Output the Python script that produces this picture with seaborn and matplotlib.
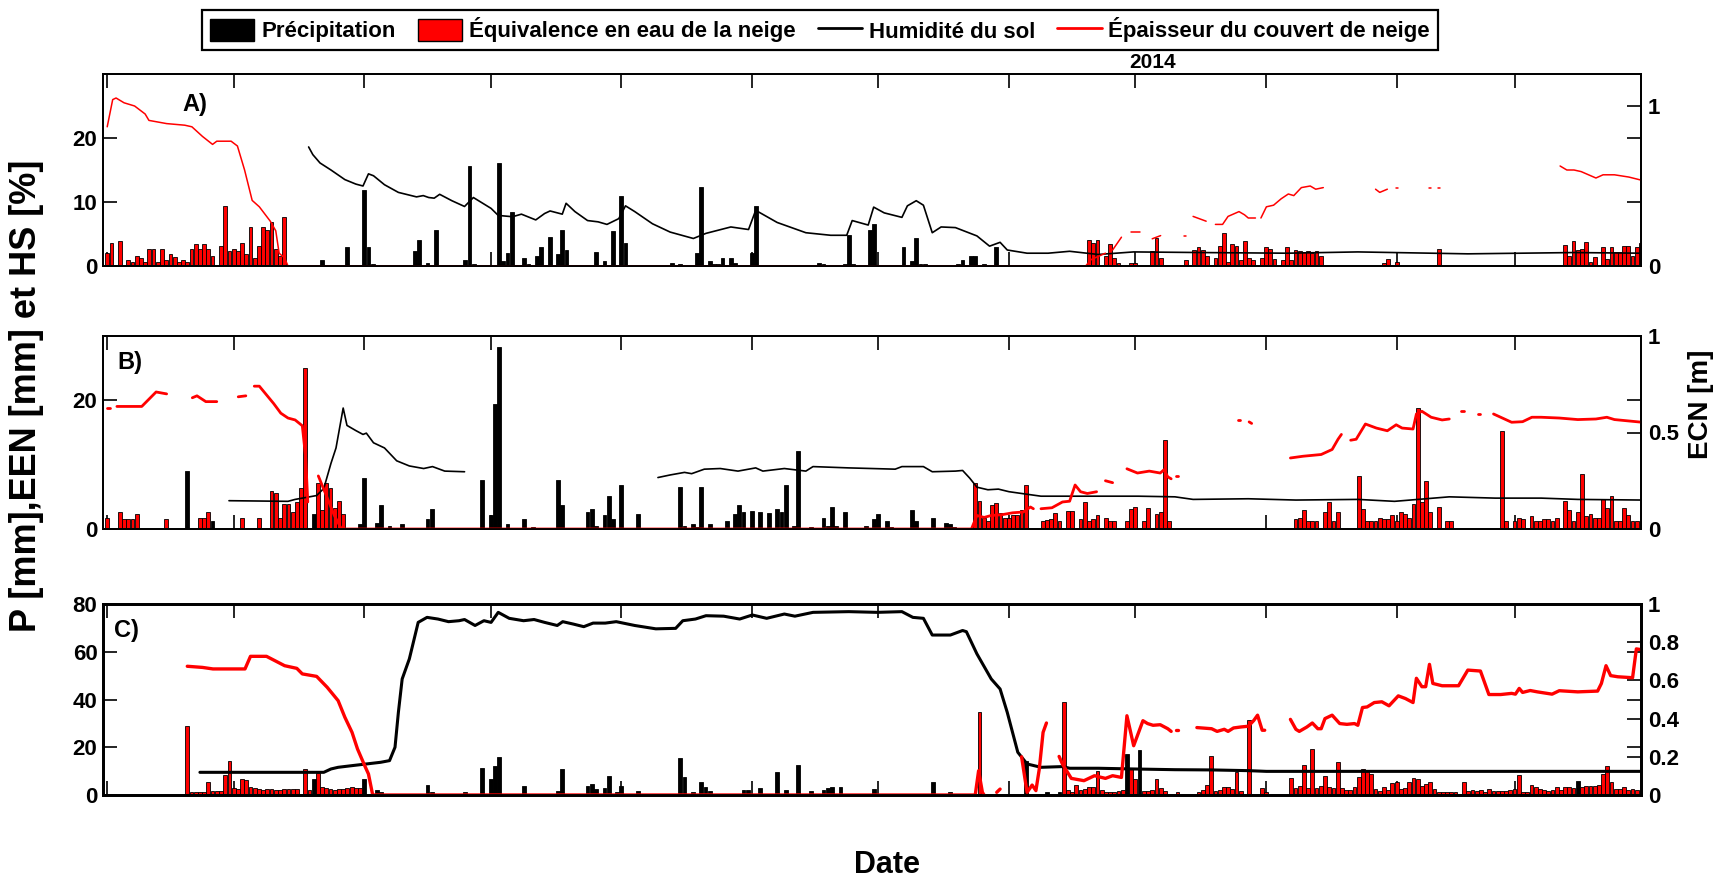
import numpy as np
import pandas as pd
import matplotlib
matplotlib.use("Agg")
import matplotlib.pyplot as plt
import seaborn as sns
from matplotlib.patches import Patch
from matplotlib.lines import Line2D

# ---------------------------------------------------------------------------
# Data: day index counted from 1 April 2013 (season April 2013 - March 2014)
# ---------------------------------------------------------------------------

# ---- Station A ----
a_p_jour = [51, 57, 61, 62, 63, 73, 74, 76, 78, 85, 86, 87, 93, 94, 95, 96, 99, 100, 102, 103,
            105, 107, 108, 109, 116, 118, 120, 122, 123, 134, 136, 140, 141, 143, 144, 145, 146, 148, 149,
            153, 154, 169, 170, 175, 176, 177, 181, 182, 189, 191, 192, 193, 194, 202, 203, 205, 206, 208, 211]
a_p_mm = [1.0, 2.9, 11.8, 3.0, 0.3, 2.3, 4.0, 0.5, 5.6, 1.0, 15.6, 0.3, 16.1, 0.8, 2.0, 8.5, 1.3, 0.3, 1.6, 3.0,
          4.5, 1.8, 5.7, 2.5, 2.2, 0.8, 5.5, 10.9, 3.6, 0.5, 0.3, 2.0, 12.3, 0.8, 0.3, 0.3, 1.3, 1.3, 0.4,
          2.0, 9.4, 0.5, 0.3, 0.3, 4.8, 0.3, 5.7, 6.5, 2.9, 0.8, 4.3, 0.3, 0.3, 0.3, 1.0, 1.6, 1.6, 0.3, 3.0]

a_een_jour = [0, 1, 3, 5, 6, 7, 8, 9, 10, 11, 12, 13, 14, 15, 16, 17, 18, 19, 20, 21,
              22, 23, 24, 25, 27, 28, 29, 30, 31, 32, 33, 34, 35, 36, 37, 38, 39, 40, 41, 42,
              233, 234, 235, 237, 238, 239, 240, 243, 244, 248, 249, 250, 256, 258, 259, 260, 261, 263, 264, 265,
              266, 267, 268, 269, 270, 271, 272, 274, 275, 276, 277, 279, 280, 281, 282, 283, 284, 285, 286, 287,
              288, 303, 304, 306, 316,
              346, 347, 348, 349, 350, 351, 352, 353, 355, 356, 357, 358, 359, 360, 361, 362, 363, 364]
a_een_mm = [2.0, 3.6, 3.9, 1.0, 0.7, 1.6, 1.2, 0.7, 2.6, 2.6, 0.7, 2.6, 1.0, 1.9, 1.4, 0.7, 1.0, 0.7, 2.7, 3.4,
            2.6, 3.5, 2.6, 1.6, 3.1, 9.3, 2.3, 2.7, 2.3, 3.6, 1.8, 6.1, 1.3, 3.2, 6.1, 5.6, 6.8, 2.6, 1.5, 7.6,
            4.1, 3.6, 4.0, 1.6, 3.5, 1.3, 0.5, 0.4, 0.4, 2.3, 4.3, 1.3, 0.9, 2.5, 2.9, 2.5, 1.6, 1.3, 3.1, 5.2,
            0.7, 3.5, 3.2, 0.9, 3.9, 1.3, 1.0, 1.3, 2.9, 2.7, 1.1, 0.9, 2.9, 1.0, 2.5, 2.3, 2.2, 2.3, 2.0, 2.4,
            1.6, 0.4, 1.1, 0.6, 2.7,
            3.3, 1.6, 3.9, 2.5, 2.7, 3.7, 0.6, 1.4, 2.9, 1.1, 2.9, 2.2, 2.2, 3.2, 3.2, 1.6, 2.9, 3.6]

a_hs_jour = [[47.8, 48.8, 50.5, 53.1, 56.4, 59, 60.7, 62, 63.2, 65.8, 69.1, 73.4, 75, 76.3, 77.6, 78.9, 81.8,
              84.8, 86.9, 91.1, 92.8, 96.2, 98.3, 101.7, 103.8, 105.1, 108, 108.9, 111, 114, 116.5, 118.6,
              121.4, 123, 125.2, 129.4, 133.6, 139.1, 142.1, 148, 152.2, 153.9, 159, 165.8, 171.7, 175.5,
              176.8, 180.6, 181.9, 184.4, 188.6, 189.9, 192, 193.7, 195.8, 197.9, 201.3, 206.4, 209.4, 211.9,
              213.6, 218.3, 223.3, 228.4, 235.2, 243.6, 260, 280, 296.8, 322.9, 348, 364.3]]
a_hs_pct = [[18.6, 17.4, 16.1, 15.0, 13.5, 12.8, 12.5, 14.4, 14.1, 12.7, 11.5, 10.8, 11.0, 10.7, 10.6, 11.2, 10.2,
             9.3, 10.7, 9.0, 7.9, 7.7, 8.1, 7.2, 8.2, 8.6, 8.1, 9.8, 8.5, 7.1, 6.9, 6.5,
             7.4, 9.4, 8.5, 6.6, 5.3, 4.3, 5.1, 6.1, 5.7, 8.7, 6.8, 5.2, 4.8, 4.8,
             7.1, 6.4, 9.2, 8.3, 7.6, 9.4, 10.2, 9.5, 5.2, 6.1, 6.0, 4.7, 3.1, 3.7,
             2.5, 2.0, 2.0, 2.3, 1.8, 2.2, 2.1, 2.0, 2.2, 1.9, 2.1, 2.0]]

# snow depth, one list per continuous record
a_ecn_jour = [[0, 1.3, 2.1, 4, 6.5, 9, 9.9, 14.1, 18.4, 20.1, 22.6, 25, 26, 27.2, 29.4, 30.9, 32.6, 34.4,
               36.1, 38.7, 40, 40.8, 42.1, 42.9, 232.2, 233.5, 236.9],
              [238.6, 240.7], [243, 245], [248, 250], [255.5, 256], [257.7, 260.8],
              [263, 264.7, 266, 268.6, 269.9, 270.8, 272.5],
              [273.8, 275.1, 276.8, 278.6, 280.3, 281.6, 283.4, 285.5, 286.8, 288.6],
              [301, 302, 303.8], [305.8, 306.3], [313.6, 314.1], [315.8, 316.3],
              [344.8, 346.4, 348.1, 349.8, 353.3, 355, 357.7, 361.1, 364.3]]
a_ecn_m = [[0.87, 1.04, 1.05, 1.02, 1.0, 0.95, 0.91, 0.89, 0.88, 0.87, 0.81, 0.76, 0.78, 0.78, 0.78, 0.75, 0.60, 0.41,
            0.37, 0.28, 0.22, 0.08, 0.05, 0, 0, 0.04, 0.08],
           [0.10, 0.18], [0.21, 0.21], [0.17, 0.19], [0.19, 0.19], [0.31, 0.28],
           [0.26, 0.26, 0.31, 0.34, 0.32, 0.30, 0.30],
           [0.30, 0.37, 0.38, 0.42, 0.45, 0.44, 0.49, 0.50, 0.48, 0.49],
           [0.48, 0.46, 0.48], [0.49, 0.49], [0.485, 0.485], [0.485, 0.485],
           [0.625, 0.60, 0.60, 0.59, 0.55, 0.57, 0.57, 0.556, 0.535]]

# ---- Station B ----
b_p_jour = [19, 25, 49, 60, 61, 64, 65, 67, 70, 76, 77, 89, 91, 92, 93, 95, 99, 101, 107, 108,
            114, 115, 116, 118, 119, 120, 122, 126, 136, 137, 139, 140, 141, 143, 147, 149, 150, 151, 153, 155,
            157, 159, 160, 161, 163, 164, 165, 167, 170, 171, 172, 173, 175, 180, 182, 183, 185, 186, 191, 192,
            196, 198, 199, 200, 201]
b_p_mm = [9.0, 1.2, 2.3, 0.7, 8.0, 0.9, 3.8, 0.5, 0.7, 1.6, 3.1, 7.6, 2.2, 19.4, 28.3, 0.7, 1.5, 0.3, 7.6, 3.8,
          2.7, 3.1, 0.4, 2.1, 5.1, 1.5, 6.8, 2.4, 6.5, 0.4, 0.7, 0.3, 6.6, 0.7, 1.2, 2.3, 3.8, 2.6, 2.8, 2.6,
          2.5, 3.1, 2.6, 6.8, 0.4, 12.1, 0.2, 0.3, 1.7, 0.5, 3.4, 0.4, 2.6, 0.4, 1.5, 2.3, 1.3, 0.3, 2.9, 1.3,
          1.7, 0.2, 1.0, 0.7, 0.3]

b_een_jour = [0, 3, 4, 5, 6, 7, 14, 22, 23, 24, 32, 36, 39, 40, 41, 42, 43, 44, 45, 46, 47, 50, 51, 52, 53, 54, 55, 56,
              206, 207, 208, 209, 210, 211, 212, 213, 214, 215, 216, 217, 218, 222, 223, 224, 225, 226, 228, 229,
              231, 232, 233, 234, 235, 237, 238, 239, 242, 243, 244, 246, 247, 249, 250, 251, 252,
              282, 283, 284, 285, 286, 287, 289, 290, 291, 292, 297, 298, 299, 300, 301, 302, 303, 304, 305, 306,
              307, 308, 309, 310, 311, 312, 313, 314, 316, 318, 319,
              331, 332, 334, 335, 336, 338, 339, 340, 341, 342, 343, 344, 346, 347, 348, 349, 350, 351, 352, 353,
              354, 355, 356, 357, 358, 359, 360, 361, 362, 363]
b_een_mm = [1.7, 2.6, 1.5, 1.5, 1.5, 2.3, 1.5, 1.7, 1.7, 2.6, 1.7, 1.7, 5.9, 5.6, 1.7, 3.9, 3.9, 2.7, 4.2, 6.4, 25.1,
            7.2, 3.0, 7.1, 6.4, 3.2, 4.3, 2.3,
            7.2, 4.3, 1.7, 1.2, 3.7, 4.1, 2.5, 1.7, 1.7, 2.1, 2.2, 3.0, 6.9, 1.3, 1.4, 1.5, 2.5, 1.3, 2.8, 2.8,
            1.5, 4.2, 1.3, 1.5, 2.2, 1.7, 1.3, 1.3, 1.3, 3.1, 3.4, 1.3, 3.2, 2.3, 2.7, 13.9, 1.3,
            1.6, 1.7, 3.0, 1.3, 1.3, 1.3, 2.7, 4.2, 1.3, 2.7, 8.3, 3.1, 1.3, 1.3, 1.3, 1.7, 1.6, 1.6, 2.1, 1.3,
            2.7, 2.4, 1.7, 3.9, 18.8, 4.2, 7.4, 2.6, 3.4, 1.3, 1.3,
            15.3, 1.3, 1.3, 1.7, 1.5, 2.0, 1.3, 1.3, 1.6, 1.5, 1.3, 1.7, 4.3, 2.9, 1.3, 2.6, 8.5, 2.0, 2.3, 1.7,
            1.7, 4.6, 3.2, 5.1, 1.3, 1.3, 3.2, 2.1, 1.3, 1.3]

b_hs_jour = [[28.9, 42.9, 44.6, 48, 49.7, 51.4, 53.1, 54.3, 56, 56.9, 59, 60.7, 61.5, 63.2, 65.8, 68.7, 71.7,
              75.1, 77.2, 80.1, 84.8],
             [130.7, 133.6, 137, 138.7, 141.7, 145.5, 149.7, 153.9, 155.6, 160.7, 165.8, 167.5, 175.9, 187,
              188.6, 193.7, 195.8, 201.3, 203, 204.7, 206.4, 209, 211.5, 214, 218.3, 221.6, 226.7, 244.7,
              253.4, 257.7, 270.8, 282.1, 296.8, 305.5, 318.5, 329.4, 340.3, 349, 364.3]]
b_hs_pct = [[4.4, 4.3, 4.6, 5.0, 5.2, 6.3, 10.2, 12.6, 18.8, 16.1, 15.3, 14.7, 14.9, 13.4, 12.6, 10.6, 9.8,
             9.4, 9.7, 9.0, 8.9],
            [8.0, 8.4, 8.8, 8.6, 9.3, 9.4, 9.0, 9.5, 9.0, 9.4, 9.0, 9.7, 9.5, 9.3,
             9.7, 9.7, 8.9, 9.0, 9.1, 7.9, 6.5, 6.1, 6.2, 5.8, 5.4, 5.1, 5.1, 5.1,
             5.0, 4.6, 4.7, 4.5, 4.6, 4.3, 5.0, 4.8, 4.8, 4.6, 4.5]]

b_ecn_jour = [[0, 0.6], [2.3, 8.2, 11.6, 14.1], [20.2, 21.3, 23.4, 26.0], [31.1, 32.9],
              [34.9, 36.1, 39.5, 41.2, 42.9, 44.6, 46.3, 47.1, 47.6],
              [50.1, 51.8, 53.9, 55.6, 205.1, 206.4, 208.1, 209.8, 212.3, 214.9, 217.4, 219.1, 219.8],
              [221.6, 224.2, 226.7, 228.4, 229.7, 231, 232.6, 234.8], [236.9, 238.6],
              [242, 244.5, 247.3, 249.9, 250.8, 251.7, 252.5], [253.6, 254.1], [268.4, 268.9], [271, 271.6],
              [280.8, 283.8, 288.1, 290.7, 292.1, 292.9],
              [295.1, 296.4, 298.6, 301.2, 303.8, 305.9, 307.3, 309.9, 310.7, 312, 314.2, 316.8, 318.5],
              [321.4, 321.9], [325.3, 325.8],
              [329, 331.6, 333.3, 335.9, 338.1, 340.3, 344.6, 349, 353.3, 355.9, 357.7, 364.3]]
b_ecn_m = [[0.626, 0.626], [0.635, 0.635, 0.71, 0.70], [0.68, 0.69, 0.66, 0.66], [0.685, 0.69],
           [0.74, 0.74, 0.65, 0.60, 0.575, 0.565, 0.535, 0.37, 0.14],
           [0.275, 0.184, 0.07, 0, 0, 0.07, 0.06, 0.07, 0.074, 0.084, 0.088, 0.114, 0.105],
           [0.105, 0.11, 0.14, 0.144, 0.228, 0.193, 0.184, 0.193], [0.25, 0.24],
           [0.312, 0.29, 0.30, 0.29, 0.307, 0.27, 0.26], [0.277, 0.277], [0.567, 0.567], [0.555, 0.547],
           [0.368, 0.377, 0.386, 0.412, 0.465, 0.49],
           [0.46, 0.465, 0.544, 0.523, 0.509, 0.54, 0.523, 0.518, 0.596, 0.61, 0.579, 0.565, 0.57],
           [0.61, 0.61], [0.596, 0.596],
           [0.596, 0.57, 0.553, 0.556, 0.579, 0.579, 0.575, 0.567, 0.57, 0.579, 0.567, 0.553]]

# ---- Station C ----
c_p_jour = [49, 61, 64, 65, 67, 76, 77, 85, 89, 91, 92, 93, 99, 107, 108, 114, 115, 116, 118, 119,
            121, 122, 126, 134, 136, 137, 139, 141, 142, 143, 151, 152, 155, 157, 159, 161, 164, 167, 170, 171,
            172, 174, 179, 182, 186, 192, 196, 198, 200, 218, 223, 226, 242, 245, 349]
c_p_mm = [6.7, 6.7, 2.1, 1.4, 0.4, 4.2, 1.1, 1.1, 11.2, 6.7, 12.0, 15.8, 3.9, 1.5, 10.9, 3.6, 4.6, 2.5, 2.8, 7.8,
          1.1, 3.9, 1.5, 0.4, 15.5, 7.4, 1.4, 5.3, 3.2, 1.8, 2.2, 2.2, 2.8, 0.4, 9.5, 2.2, 12.7, 1.8, 2.2, 2.8,
          3.2, 3.2, 0.4, 2.5, 0.4, 0.4, 5.6, 0.4, 1.1, 14.4, 1.4, 1.4, 17.2, 19.0, 6.0]

c_een_jour = [19, 20, 21, 22, 23, 24, 25, 26, 27, 28, 29, 30, 31, 32, 33, 34, 35, 36, 37, 38,
              39, 40, 41, 42, 43, 44, 45, 47, 48, 50, 51, 52, 53, 54, 55, 56, 57, 58, 59, 60,
              207, 227, 228, 229, 230, 231, 232, 233, 234, 235, 236, 237, 238, 239, 240, 241, 243, 244, 246, 247,
              248, 249, 250, 251, 254, 259, 260, 261, 262, 263, 264, 265, 266, 267, 268, 269, 271, 274, 275,
              281, 282, 283, 284, 285, 286, 287, 288, 289, 290, 291, 292, 293, 294, 295, 296, 297, 298, 299, 300,
              301, 302, 303, 304, 305, 306, 307, 308, 309, 310, 311, 312, 313, 314, 315, 316, 317, 318, 319, 320,
              322, 323, 324, 325, 326, 327, 328, 329, 330, 331, 332, 333, 334, 335, 336, 337, 338, 339, 340, 341,
              342, 343, 344, 345, 346, 347, 348, 350, 351, 352, 353, 354, 355, 356, 357, 358, 359, 360, 361, 362,
              363]
c_een_mm = [29.0, 1.4, 1.4, 1.4, 1.4, 5.3, 1.8, 1.8, 1.8, 8.4, 14.4, 2.8, 2.5, 6.7, 6.3, 3.2, 2.8, 2.5, 2.1, 2.5,
            2.5, 2.1, 2.1, 2.5, 2.5, 2.5, 2.5, 10.9, 2.1, 9.1, 3.2, 2.8, 2.5, 2.1, 2.5, 2.5, 2.8, 3.2, 2.8, 2.8,
            34.6, 39.1, 2.1, 1.4, 4.2, 2.1, 2.5, 3.2, 3.2, 10.2, 2.1, 1.4, 1.4, 1.4, 1.8, 2.1, 11.2, 6.7, 1.8, 1.8,
            2.1, 6.7, 2.8, 1.8, 1.4, 1.4, 2.2, 4.2, 16.2, 1.8, 2.1, 3.2, 3.5, 2.5, 9.8, 1.8, 31.6, 2.8, 1.4,
            7.0, 2.8, 3.6, 12.7, 2.8, 19.3, 2.8, 3.9, 8.1, 3.2, 2.8, 14.0, 2.8, 2.1, 2.1, 3.2, 7.7, 10.9, 10.5, 8.8,
            2.5, 1.8, 3.2, 2.1, 5.0, 5.6, 2.5, 2.8, 5.6, 7.0, 6.7, 3.9, 4.6, 5.3, 2.5, 1.4, 1.4, 1.4, 1.4, 1.4,
            5.6, 1.8, 2.2, 1.8, 2.2, 1.4, 2.5, 1.8, 1.8, 1.8, 1.8, 2.2, 2.5, 8.4, 1.4, 1.4, 4.2, 3.2, 2.5, 2.1,
            1.8, 2.1, 3.2, 2.1, 3.2, 3.2, 2.8, 3.2, 3.6, 3.6, 3.6, 4.2, 8.8, 12.3, 5.6, 2.5, 2.5, 3.2, 2.1, 2.5,
            2.1]

c_hs_jour = [[22, 51.4, 53.1, 54.8, 58.1, 61.5, 64.9, 67, 68.3, 69.1, 70, 71.7, 73.8, 75.9, 78.5, 81, 83.5,
              84.8, 87.3, 89.4, 91.1, 92.8, 95.4, 98.8, 101.3, 103.8, 106.8, 108.1, 110.6, 113.1, 115.3, 118.2,
              120.8, 125.2, 130.2, 134.9, 136.6, 139.6, 142.1, 146.3, 150.1, 153.1, 156.5, 160.7, 163.2, 167.5,
              176, 182.7, 188.6, 191.2, 193.7, 195.8, 200.1, 203, 203.9, 206.4, 209.8, 211.9, 213.6, 216.1,
              218.3, 221.6, 226.7, 228.4, 235.2, 243.6, 253.4, 262.1, 270.8, 275.1, 364.3]]
c_hs_pct = [[9.5, 9.5, 10.9, 11.6, 12.3, 13.0, 13.7, 14.4, 20, 34.6, 48.6, 57, 72.3, 74.4, 73.7, 72.6, 73,
             73.5, 71, 73, 72.3, 76.5, 74, 73, 73.5, 72.3, 71, 72.6, 71.6, 70.5, 72, 72,
             72.6, 71, 69.6, 69.8, 73, 73.7, 75.1, 74.9, 73.7, 75.4, 74, 75.8, 74.9, 76.5,
             76.8, 76.5, 76.8, 74.4, 74, 67, 67, 68.9, 68.4, 59.1, 48.6, 44.4, 34.6, 17.9,
             13, 11.6, 11.9, 11.2, 11.2, 10.9, 10.6, 10.5, 10.2, 9.9, 9.9]]

c_ecn_jour = [[19, 22.6, 25.1, 28.5, 32.7, 34.0, 37.8, 42.1, 45.0, 46.3, 49.7, 52.2, 54.8, 56.4, 58.1, 59.4,
               61.1, 62.0, 63.0, 206, 206.8, 207.7, 208.1],
              [211.1, 211.9],
              [217, 218.3, 219.5, 220.4, 221.2, 222.1, 222.9],
              [225.9, 226.7, 228.8, 231.8, 234.3, 236.9, 238.6, 240.7, 242, 243.6, 245.8, 246.9, 248.2, 249.9,
               251.7, 252.5],
              [253.6, 254.1],
              [258.6, 262.1, 263.4, 265.1, 266, 267.3, 269, 270.8, 272.1, 273, 274.1, 274.7],
              [280.8, 282.1, 282.9, 284.7, 286, 287.3, 288.1, 289, 290.7, 292.5, 294.2, 296, 296.8, 297.9, 299,
               300.7, 302.5, 304.2, 306.4, 308.1, 309.9, 310.7, 312, 312.9, 313.8, 314.6, 316.8, 320.7, 322.9,
               325.9, 327.9, 330.7, 333.3, 334.2, 335.1, 335.9, 337.7, 339.4, 342.9, 344.6, 349, 353.7, 354.6,
               355.7, 356.8, 358.5, 362, 362.9, 364.3]]
c_ecn_m = [[0.674, 0.668, 0.66, 0.66, 0.66, 0.726, 0.726, 0.677, 0.663, 0.634, 0.621, 0.564, 0.494, 0.407, 0.328,
            0.241, 0.154, 0.11, 0, 0, 0.127, 0.014, 0],
           [0.014, 0.031],
           [0.2, 0.014, 0.052, 0.023, 0.136, 0.328, 0.377],
           [0.202, 0.162, 0.087, 0.075, 0.101, 0.087, 0.101, 0.092, 0.415, 0.258, 0.389, 0.374, 0.365, 0.368,
            0.347, 0.333],
           [0.339, 0.339],
           [0.353, 0.347, 0.333, 0.344, 0.333, 0.351, 0.356, 0.36, 0.39, 0.418, 0.339, 0.339],
           [0.396, 0.344, 0.333, 0.356, 0.377, 0.347, 0.347, 0.4, 0.418, 0.374, 0.37, 0.374, 0.365, 0.458, 0.461,
            0.484, 0.488, 0.467, 0.519, 0.505, 0.484, 0.611, 0.567, 0.567, 0.684, 0.584, 0.572, 0.572, 0.654,
            0.649, 0.526, 0.526, 0.532, 0.528, 0.558, 0.537, 0.547, 0.54, 0.528, 0.546, 0.54, 0.544, 0.584,
            0.677, 0.625, 0.619, 0.614, 0.765, 0.76]]

legende_textes = ["Précipitation", "Équivalence en eau de la neige",
                  "Humidité du sol", "Épaisseur du couvert de neige"]

# ---------------------------------------------------------------------------
# Style
# ---------------------------------------------------------------------------
sns.set_theme(style="white", rc={"axes.edgecolor": "black", "xtick.color": "black",
                                 "ytick.color": "black", "text.color": "black",
                                 "axes.labelcolor": "black"})
plt.rcParams["font.family"] = ["Liberation Sans", "DejaVu Sans"]

W, H = 1715, 881
fig = plt.figure(figsize=(W / 100, H / 100), dpi=100)


def rect(l, t, r, b):
    return [l / W, 1 - b / H, (r - l) / W, (b - t) / H]


debut = pd.Timestamp("2013-04-01")
mois = pd.date_range("2013-04-01", "2014-03-01", freq="MS")
mois_jour = np.asarray((mois - debut).days, dtype=float)


def barres(ax, jour, val, couleur):
    assert len(jour) == len(val)
    df = pd.DataFrame({"jour": jour, "val": val})
    sns.barplot(data=df, x="jour", y="val", native_scale=True, color=couleur, saturation=1,
                width=0.9, edgecolor="black", linewidth=0.6, errorbar=None, ax=ax)


def courbe(ax, segs_x, segs_y, couleur, lw):
    for xs, ys in zip(segs_x, segs_y):
        assert len(xs) == len(ys)
        sns.lineplot(x=xs, y=ys, ax=ax, color=couleur, linewidth=lw, sort=False,
                     estimator=None)


panneaux = [
    dict(box=(103, 74, 1641, 266), p=(a_p_jour, a_p_mm), een=(a_een_jour, a_een_mm),
         hs=(a_hs_jour, a_hs_pct), ecn=(a_ecn_jour, a_ecn_m),
         ymax=30, yt=[0, 10, 20], rmax=1.2, rt=[0, 1], rl=["0", "1"], rminor=[0.4, 0.8],
         nom="A)", nom_xy=(195, 105), lw_hs=1.2, lw_ecn=1.1, spine=1.3),
    dict(box=(103, 336, 1641, 529), p=(b_p_jour, b_p_mm), een=(b_een_jour, b_een_mm),
         hs=(b_hs_jour, b_hs_pct), ecn=(b_ecn_jour, b_ecn_m),
         ymax=30, yt=[0, 20], rmax=1.0, rt=[0, 0.5, 1], rl=["0", "0.5", "1"], rminor=[2 / 3],
         nom="B)", nom_xy=(130, 362), lw_hs=1.2, lw_ecn=2.0, spine=1.3),
    dict(box=(103, 604, 1641, 795), p=(c_p_jour, c_p_mm), een=(c_een_jour, c_een_mm),
         hs=(c_hs_jour, c_hs_pct), ecn=(c_ecn_jour, c_ecn_m),
         ymax=80, yt=[0, 20, 40, 60, 80], rmax=1.0, rt=[0, 0.2, 0.4, 0.6, 0.8, 1],
         rl=["0", "0.2", "0.4", "0.6", "0.8", "1"], rminor=[0.25, 0.5, 0.75],
         nom="C)", nom_xy=(126, 630), lw_hs=2.2, lw_ecn=2.4, spine=2.0),
]

for cfg in panneaux:
    ax = fig.add_axes(rect(*cfg["box"]))
    barres(ax, *cfg["p"], "black")
    barres(ax, *cfg["een"], "red")
    courbe(ax, *cfg["hs"], "black", cfg["lw_hs"])
    axr = ax.twinx()
    courbe(axr, *cfg["ecn"], "red", cfg["lw_ecn"])

    ax.set_xlim(-1, 364)
    ax.set_ylim(0, cfg["ymax"])
    axr.set_ylim(0, cfg["rmax"])
    ax.set_xticks(mois_jour)
    ax.set_xticklabels([])
    ax.set_yticks(cfg["yt"])
    ax.set_yticklabels([str(v) for v in cfg["yt"]], fontsize=16, fontweight="bold")
    axr.set_yticks(cfg["rt"])
    axr.set_yticklabels(cfg["rl"], fontsize=16, fontweight="bold")
    axr.set_yticks(cfg["rminor"], minor=True)
    for a in (ax, axr):
        a.set_xlabel("")
        a.set_ylabel("")
        for sp in a.spines.values():
            sp.set_visible(True)
            sp.set_color("black")
            sp.set_linewidth(cfg["spine"])
    ax.tick_params(axis="x", which="major", direction="in", top=True, bottom=True,
                   length=10, width=1.2)
    ax.tick_params(axis="y", which="major", direction="in", left=True, right=False,
                   length=10, width=1.2, pad=4)
    axr.tick_params(axis="y", which="both", direction="in", right=True, left=False,
                    length=10, width=1.2, pad=5)
    ax.grid(False)
    axr.grid(False)
    x0, y0 = cfg["nom_xy"]
    fig.text(x0 / W, 1 - y0 / H, cfg["nom"], fontsize=17, fontweight="bold",
             ha="center", va="center")

# Legend across the top
poignees = [Patch(facecolor="black", edgecolor="black"),
            Patch(facecolor="red", edgecolor="black"),
            Line2D([], [], color="black", lw=2),
            Line2D([], [], color="red", lw=2)]
leg = fig.legend(poignees, legende_textes, loc="center", bbox_to_anchor=(820 / W, 1 - 30 / H),
                 ncol=4, frameon=True, fancybox=False, framealpha=1, edgecolor="black",
                 prop={"size": 16, "weight": "bold"}, handlelength=2.0, handleheight=1.15,
                 handletextpad=0.3, columnspacing=1.0, borderpad=0.35, borderaxespad=0)
leg.get_frame().set_linewidth(1.6)

fig.text(1153 / W, 1 - 63 / H, "2014", fontsize=15, fontweight="bold", ha="center", va="center")
fig.text(887 / W, 1 - 865 / H, "Date", fontsize=22, fontweight="bold", ha="center", va="center")
fig.text(27 / W, 1 - 396 / H, "P [mm],EEN [mm] et HS [%]", fontsize=26, fontweight="bold",
         rotation=90, ha="center", va="center")
fig.text(1701 / W, 1 - 404 / H, "ECN [m]", fontsize=20, fontweight="bold", rotation=90,
         ha="center", va="center")

fig.savefig("out.png", dpi=100)
